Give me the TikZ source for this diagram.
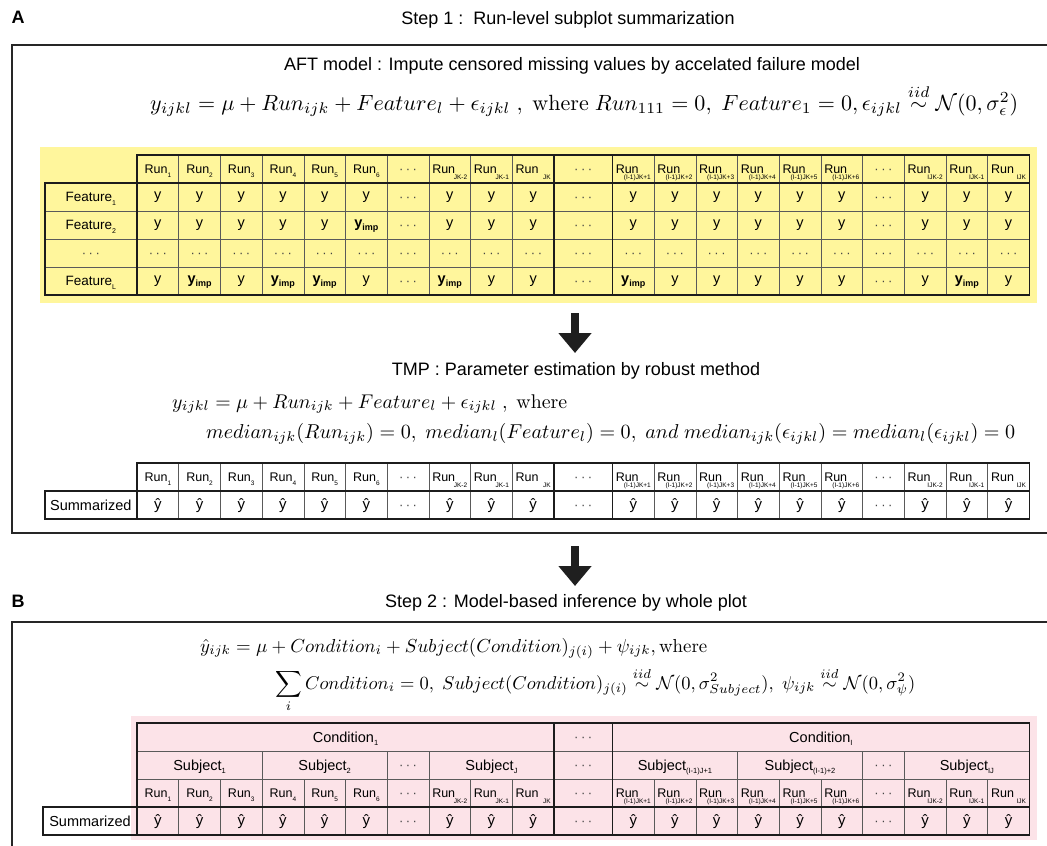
\documentclass[tikz,border=0pt]{standalone}
\usepackage{amsmath}
\usepackage{fontspec}
\newfontfamily\hv{Liberation Sans}
\usetikzlibrary{arrows.meta}
\definecolor{ybg}{HTML}{FFF69C}
\definecolor{pbg}{HTML}{FCE3E8}
\definecolor{gridc}{HTML}{5A5A5A}
\definecolor{edge}{HTML}{1C1C1C}
\definecolor{dotc}{HTML}{444444}
\newcommand{\fs}[1]{\fontsize{#1}{#1}\selectfont}
\newcommand{\rs}[1]{Run\raisebox{-3.5pt}{\fs{6.5}#1}}
\newcommand{\rl}[1]{\makebox[35pt][l]{Run}\llap{\raisebox{-5.5pt}{\fs{6.5}#1}}}
\newcommand{\lsub}[1]{\raisebox{-3.5pt}{\fs{7}#1}}
\newcommand{\csub}[1]{\raisebox{-3.5pt}{\fs{7.5}#1}}
\newcommand{\dts}{\textcolor{dotc}{·\hspace{2.5pt}·\hspace{2.5pt}·}}
\newcommand{\yi}{\textbf{y\raisebox{-3.5pt}{\fs{9}imp}}}
\newcommand{\yh}{ŷ}
\def\HDR{hd/\rs{1},hd/\rs{2},hd/\rs{3},hd/\rs{4},hd/\rs{5},hd/\rs{6},dt/\dts,hd/\rl{JK-2},hd/\rl{JK-1},hd/\rl{JK},dt/\dts,hd/\rl{(I-1)JK+1},hd/\rl{(I-1)JK+2},hd/\rl{(I-1)JK+3},hd/\rl{(I-1)JK+4},hd/\rl{(I-1)JK+5},hd/\rl{(I-1)JK+6},dt/\dts,hd/\rl{IJK-2},hd/\rl{IJK-1},hd/\rl{IJK}}
\def\RA{vl/y,vl/y,vl/y,vl/y,vl/y,vl/y,dt/\dts,vl/y,vl/y,vl/y,dt/\dts,vl/y,vl/y,vl/y,vl/y,vl/y,vl/y,dt/\dts,vl/y,vl/y,vl/y}
\def\RB{vl/y,vl/y,vl/y,vl/y,vl/y,vl/\yi,dt/\dts,vl/y,vl/y,vl/y,dt/\dts,vl/y,vl/y,vl/y,vl/y,vl/y,vl/y,dt/\dts,vl/y,vl/y,vl/y}
\def\RC{dt/\dts,dt/\dts,dt/\dts,dt/\dts,dt/\dts,dt/\dts,dt/\dts,dt/\dts,dt/\dts,dt/\dts,dt/\dts,dt/\dts,dt/\dts,dt/\dts,dt/\dts,dt/\dts,dt/\dts,dt/\dts,dt/\dts,dt/\dts,dt/\dts}
\def\RD{vl/y,vl/\yi,vl/y,vl/\yi,vl/\yi,vl/y,dt/\dts,vl/\yi,vl/y,vl/y,dt/\dts,vl/\yi,vl/y,vl/y,vl/y,vl/y,vl/y,dt/\dts,vl/y,vl/\yi,vl/y}
\def\RS{hy/\yh,hy/\yh,hy/\yh,hy/\yh,hy/\yh,hy/\yh,dt/\dts,hy/\yh,hy/\yh,hy/\yh,dt/\dts,hy/\yh,hy/\yh,hy/\yh,hy/\yh,hy/\yh,hy/\yh,dt/\dts,hy/\yh,hy/\yh,hy/\yh}
\newcommand{\tabrow}[3]{%
  \foreach \s/\v [count=\i] in #3 {%
    \pgfmathsetmacro{\cx}{(\i<=10)*(137+(\i-0.5)*41.7)+(\i==11)*583.2+(\i>=12)*(612.4+(\i-11.5)*41.7)}%
    \pgfmathsetmacro{\cw}{(\i==11)*58.4+(\i!=11)*41.7}%
    \node[\s, minimum width=\cw pt] (#1\i) at (\cx,#2) {\v};
  }}
\tikzset{
  cellbase/.style={draw=gridc, line width=0.6pt, inner sep=0pt, outer sep=0pt, minimum height=28pt, anchor=center},
  hd/.style={cellbase, font=\hv\fs{12.5}, text height=9pt, text depth=0pt},
  vl/.style={cellbase, font=\hv\fs{14.5}, text height=7.6pt, text depth=3pt},
  hy/.style={cellbase, font=\hv\fs{15}, text height=11pt, text depth=3pt},
  dt/.style={cellbase, font=\hv\fs{13}, text height=9pt, text depth=0pt},
  lb/.style={cellbase, font=\hv\fs{13.5}, text height=9.7pt, text depth=0pt, minimum width=92.3pt},
  lbs/.style={cellbase, font=\hv\fs{14.5}, text height=10.4pt, text depth=0pt, minimum width=93pt},
  sj/.style={cellbase, font=\hv\fs{14.5}, text height=10.4pt, text depth=0pt},
  thk/.style={draw=edge, line width=1.6pt, line cap=rect},
  frame/.style={draw=black!85, line width=2pt},
  title/.style={font=\hv\fs{18}, inner sep=0pt},
  eq/.style={anchor=base west, inner sep=0pt},
  bigarrow/.style={draw=black!88, line width=8pt, -{Triangle[length=20pt,width=32pt]}}
}
\begin{document}
\begin{tikzpicture}[x=1pt,y=-1pt,font=\hv]
\useasboundingbox (0,0) rectangle (1047,846);
\clip (0,0) rectangle (1047,846);
% frames
\draw[frame] (12,45) rectangle (1070,533);
\draw[frame] (12,622) rectangle (1070,880);
% panel labels and titles
\node[font=\hv\bfseries\fs{18}] (labA) at (18,17) {A};
\node[font=\hv\bfseries\fs{18}] (labB) at (18,601) {B};
\node[title] (step1) at (568,20) {Step 1 :\ \ Run-level subplot summarization};
\node[title] (aft) at (572,66) {AFT model : Impute censored missing values by accelated failure model};
\node[eq] (eqaft) at (150,110) {\resizebox{868pt}{!}{$y_{ijkl} = \mu + Run_{ijk} + Feature_l + \epsilon_{ijkl}\ ,\ \mathrm{where}\ Run_{111} = 0,\ Feature_1 = 0, \epsilon_{ijkl} \overset{iid}{\sim} \mathcal{N}(0,\sigma_\epsilon^2)$}};
% yellow table
\fill[ybg] (40,147) rectangle (1037,303);
\tabrow{t1h}{169}{\HDR}
\tabrow{t1a}{197}{\RA}
\tabrow{t1b}{225}{\RB}
\tabrow{t1c}{253}{\RC}
\tabrow{t1d}{281}{\RD}
\node[lb] (f1) at (90.85,197) {Feature\lsub{1}};
\node[lb] (f2) at (90.85,225) {Feature\lsub{2}};
\node[dt, minimum width=92.3pt] (f3) at (90.85,253) {\dts};
\node[lb] (f4) at (90.85,281) {Feature\lsub{L}};
\draw[thk] (t1h1.north west) rectangle (t1h21.south east);
\draw[thk] (f1.north west) rectangle (t1d21.south east);
\draw[thk] (f1.north east) -- (f4.south east);
\draw[thk] (t1h10.north east) -- (t1d10.south east);
\draw[thk] (t1h11.north east) -- (t1d11.south east);
% arrow 1
\coordinate (ar1s) at (575,313);
\coordinate (ar1e) at (575,353);
\draw[bigarrow] (ar1s) -- (ar1e);
% TMP
\node[title] (tmp) at (576,371) {TMP : Parameter estimation by robust method};
\node[eq] (eqt1) at (172,408) {\resizebox{395pt}{!}{$y_{ijkl} = \mu + Run_{ijk} + Feature_l + \epsilon_{ijkl}\ ,\ \mathrm{where}$}};
\node[eq] (eqt2) at (206,438) {\resizebox{809pt}{!}{$median_{ijk}(Run_{ijk}) = 0,\ median_l(Feature_l) = 0,\ and\ median_{ijk}(\epsilon_{ijkl}) = median_l(\epsilon_{ijkl}) = 0$}};
\tabrow{t2h}{477}{\HDR}
\tabrow{t2s}{505}{\RS}
\node[lbs, minimum width=92.3pt] (sA) at (90.85,505) {Summarized};
\draw[thk] (t2h1.north west) rectangle (t2h21.south east);
\draw[thk] (sA.north west) rectangle (t2s21.south east);
\draw[thk] (sA.north east) -- (sA.south east);
\draw[thk] (t2h10.north east) -- (t2s10.south east);
\draw[thk] (t2h11.north east) -- (t2s11.south east);
% arrow 2
\coordinate (ar2s) at (575,546);
\coordinate (ar2e) at (575,586);
\draw[bigarrow] (ar2s) -- (ar2e);
% Step 2
\node[title] (step2) at (566,603) {Step 2 : Model-based inference by whole plot};
\node[eq] (eqb1) at (200,652) {\resizebox{507pt}{!}{$\hat{y}_{ijk} = \mu + Condition_i + Subject(Condition)_{j(i)} + \psi_{ijk},\mathrm{where}$}};
\node[eq] (eqb2) at (275,689) {\resizebox{640pt}{!}{$\displaystyle\sum_i Condition_i = 0,\ Subject(Condition)_{j(i)} \overset{iid}{\sim} \mathcal{N}(0,\sigma^2_{Subject}),\ \psi_{ijk} \overset{iid}{\sim} \mathcal{N}(0,\sigma^2_\psi)$}};
% pink table
\fill[pbg] (131,716) rectangle (1037,840);
\node[sj, minimum width=417pt] (cond1) at (345.5,737) {Condition\csub{1}};
\node[dt, minimum width=58.4pt] (condd) at (583.2,737) {\dts};
\node[sj, minimum width=417pt] (condI) at (820.9,737) {Condition\csub{I}};
\node[sj, minimum width=125.1pt] (subj1) at (199.55,765) {Subject\csub{1}};
\node[sj, minimum width=125.1pt] (subj2) at (324.65,765) {Subject\csub{2}};
\node[dt, minimum width=41.7pt] (subjd1) at (408.05,765) {\dts};
\node[sj, minimum width=125.1pt] (subjJ) at (491.45,765) {Subject\csub{J}};
\node[dt, minimum width=58.4pt] (subjd2) at (583.2,765) {\dts};
\node[sj, minimum width=125.1pt] (subjA) at (674.95,765) {Subject\csub{(I-1)J+1}};
\node[sj, minimum width=125.1pt] (subjB) at (800.05,765) {Subject\csub{(I-1)+2}};
\node[dt, minimum width=41.7pt] (subjd3) at (883.45,765) {\dts};
\node[sj, minimum width=125.1pt] (subjIJ) at (966.85,765) {Subject\csub{IJ}};
\tabrow{t3h}{793}{\HDR}
\tabrow{t3s}{821}{\RS}
\node[lbs, minimum width=94pt] (sB) at (90,821) {Summarized};
\draw[thk] (cond1.north west) rectangle (t3h21.south east);
\draw[thk] (sB.north west) rectangle (t3s21.south east);
\draw[thk] (sB.north east) -- (sB.south east);
\draw[thk] (condd.north west) -- (t3s10.south east);
\draw[thk] (condd.north east) -- (t3s11.south east);
\end{tikzpicture}
\end{document}
